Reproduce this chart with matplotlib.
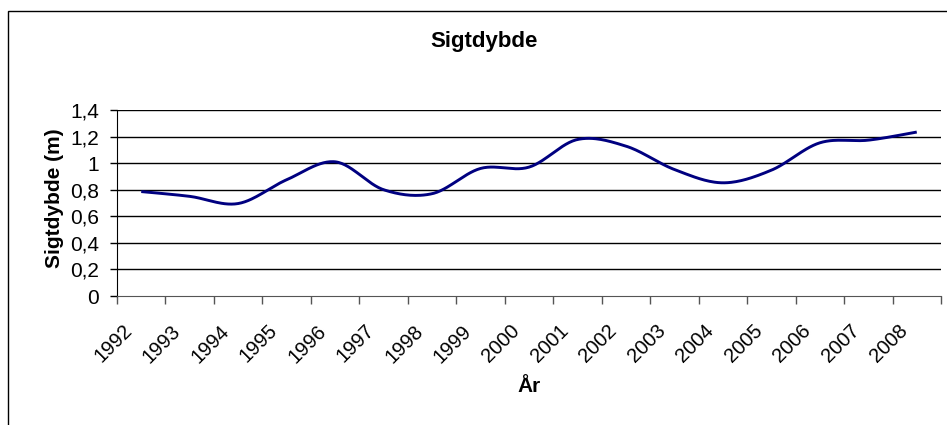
import numpy as np
import matplotlib
matplotlib.use("Agg")
import matplotlib.pyplot as plt
from matplotlib.patches import Rectangle
import matplotlib.transforms as mtransforms

plt.rcParams['font.family'] = ['Liberation Sans', 'DejaVu Sans']

years = ['1992', '1993', '1994', '1995', '1996', '1997', '1998', '1999', '2000',
         '2001', '2002', '2003', '2004', '2005', '2006', '2007', '2008']
sigtdybde = [0.786, 0.75, 0.696, 0.875, 1.01, 0.80, 0.77, 0.96, 0.97,
             1.178, 1.128, 0.952, 0.852, 0.947, 1.153, 1.173, 1.234]
yticks = [0, 0.2, 0.4, 0.6, 0.8, 1.0, 1.2, 1.4]
ytick_labels = ['0', '0,2', '0,4', '0,6', '0,8', '1', '1,2', '1,4']


def excel_smooth(x, y, n=30):
    x = np.asarray(x, float)
    y = np.asarray(y, float)
    px = np.concatenate([[x[0]], x, [x[-1]]])
    py = np.concatenate([[y[0]], y, [y[-1]]])
    xs, ys = [], []
    t = np.linspace(0, 1, n)
    for i in range(1, len(px) - 2):
        p0 = np.array([px[i], py[i]])
        p3 = np.array([px[i + 1], py[i + 1]])
        p1 = p0 + (np.array([px[i + 1], py[i + 1]]) - np.array([px[i - 1], py[i - 1]])) / 6
        p2 = p3 - (np.array([px[i + 2], py[i + 2]]) - np.array([px[i], py[i]])) / 6
        b = ((1 - t) ** 3)[:, None] * p0 + (3 * (1 - t) ** 2 * t)[:, None] * p1 \
            + (3 * (1 - t) * t ** 2)[:, None] * p2 + (t ** 3)[:, None] * p3
        xs.extend(b[:, 0])
        ys.extend(b[:, 1])
    return np.array(xs), np.array(ys)


W, H = 947, 425
fig = plt.figure(figsize=(W / 100, H / 100), dpi=100)
fig.patch.set_facecolor('white')

# chart border (cropped on right and bottom)
fig.add_artist(Rectangle((8 / W, -0.1), 1.2, 1 - 11 / H + 0.1, transform=fig.transFigure,
                         fill=False, edgecolor='black', linewidth=1.0))

ax = fig.add_axes([117 / W, 1 - 296 / H, (941 - 117) / W, (296 - 110) / H])
xpos = np.arange(len(years))
sx, sy = excel_smooth(xpos, sigtdybde)
ax.plot(sx, sy, color='#000080', linewidth=2.1, solid_capstyle='butt', zorder=3)

ax.set_xlim(-0.5, len(years) - 0.5)
ax.set_ylim(0, 1.4)
ax.set_yticks(yticks)
ax.set_yticklabels(ytick_labels, fontsize=15)
for v in yticks[1:]:
    ax.axhline(v, color='black', linewidth=1.0, zorder=1)

ax.set_xticks(np.arange(-0.5, len(years), 1.0))
ax.set_xticklabels([])
ax.set_xticks(xpos, minor=True)
ax.set_xticklabels(years, minor=True, rotation=45, ha='right', va='center',
                   rotation_mode='anchor', fontsize=14.5)
ax.tick_params(axis='x', which='major', length=6, width=1, direction='out', color='#555555')
ax.tick_params(axis='x', which='minor', length=0, pad=23)
ax.tick_params(axis='y', length=5, width=1, direction='out', pad=8)
offset = mtransforms.ScaledTranslation(-12 / 100, 0, fig.dpi_scale_trans)
for lab in ax.get_xticklabels(minor=True):
    lab.set_transform(lab.get_transform() + offset)

for s in ['top', 'right']:
    ax.spines[s].set_visible(False)
ax.spines['left'].set_color('black')
ax.spines['bottom'].set_color('#555555')

fig.text(484 / W, 1 - 42 / H, 'Sigtdybde', ha='center', va='center', fontsize=16, fontweight='bold')
fig.text(54 / W, 1 - 198 / H, 'Sigtdybde (m)', ha='center', va='center', rotation=90,
         fontsize=15, fontweight='bold')
fig.text(529 / W, 1 - 387 / H, 'År', ha='center', va='center', fontsize=15, fontweight='bold')

fig.savefig('out.png', dpi=100)
